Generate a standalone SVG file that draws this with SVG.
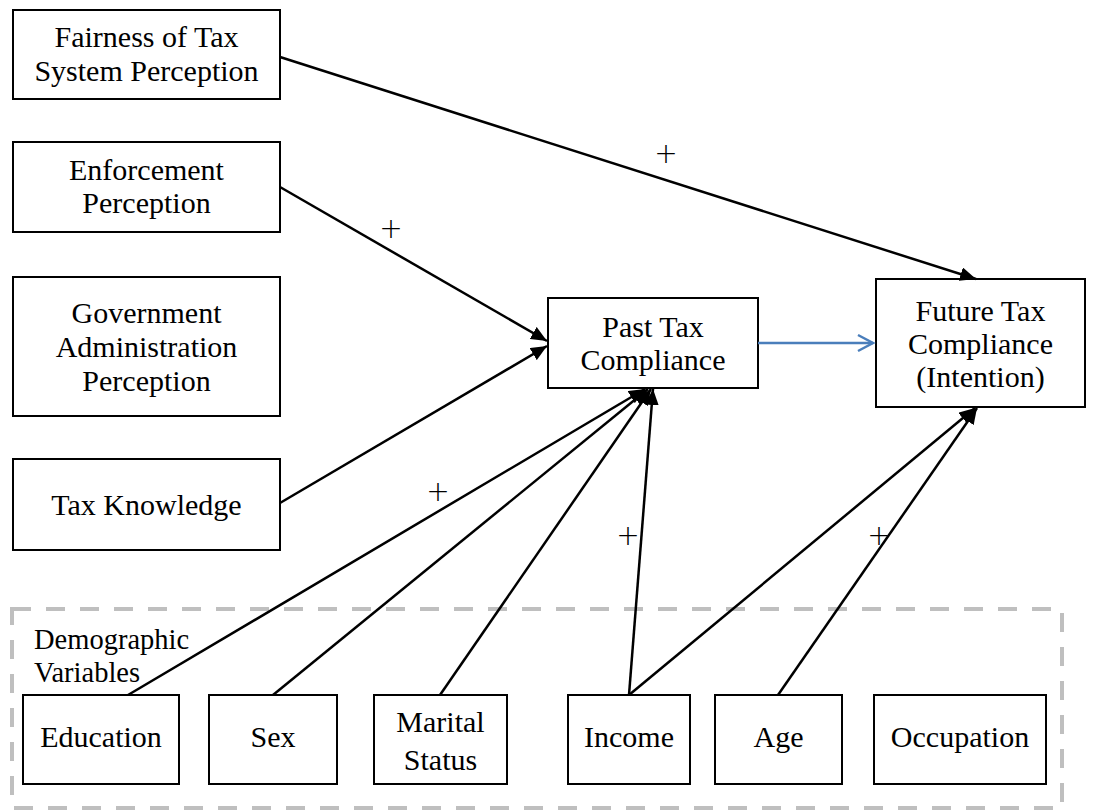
<svg xmlns="http://www.w3.org/2000/svg" width="1105" height="810" viewBox="0 0 1105 810">
<style>
.box{fill:#fff;stroke:#000;stroke-width:2}
.t{font-family:"Liberation Serif","Times New Roman",serif;font-size:30px;fill:#000;text-anchor:middle}
.tl{font-family:"Liberation Serif","Times New Roman",serif;font-size:28.5px;fill:#000}
.plus{font-family:"DejaVu Sans",sans-serif;font-size:28px;font-weight:200;fill:#000;text-anchor:middle}
.c{stroke:#000;stroke-width:2.5;fill:none;marker-end:url(#ah)}
</style>
<defs>
<marker id="ah" markerUnits="userSpaceOnUse" markerWidth="17" markerHeight="14" refX="16" refY="7" orient="auto">
<path d="M0,0 L16,7 L0,14 z" fill="#000"/>
</marker>
<marker id="oh" markerUnits="userSpaceOnUse" markerWidth="20" markerHeight="20" refX="17" refY="10" orient="auto">
<path d="M2,2 L17,10 L2,18" fill="none" stroke="#4a7ebb" stroke-width="2.5"/>
</marker>
</defs>
<rect x="12" y="609" width="1050" height="199" fill="none" stroke="#bfbfbf" stroke-width="4" stroke-dasharray="19 15"/>
<text class="tl" x="34" y="649">Demographic</text>
<text class="tl" x="34" y="682">Variables</text>
<g id="fairness"><rect class="box" x="13" y="10" width="267" height="89"/><text class="t" x="146.5" y="47">Fairness of Tax</text><text class="t" x="146.5" y="81">System Perception</text></g>
<g id="enforcement"><rect class="box" x="13" y="142" width="267" height="90"/><text class="t" x="146.5" y="180">Enforcement</text><text class="t" x="146.5" y="213">Perception</text></g>
<g id="government"><rect class="box" x="13" y="277" width="267" height="139"/><text class="t" x="146.5" y="323">Government</text><text class="t" x="146.5" y="357">Administration</text><text class="t" x="146.5" y="391">Perception</text></g>
<g id="knowledge"><rect class="box" x="13" y="459" width="267" height="91"/><text class="t" x="146.5" y="515">Tax Knowledge</text></g>
<g id="past"><rect class="box" x="548" y="298" width="210" height="90"/><text class="t" x="653" y="337">Past Tax</text><text class="t" x="653" y="370">Compliance</text></g>
<g id="future"><rect class="box" x="876" y="279" width="209" height="128"/><text class="t" x="980.5" y="321">Future Tax</text><text class="t" x="980.5" y="354">Compliance</text><text class="t" x="980.5" y="387">(Intention)</text></g>
<g id="education"><rect class="box" x="23" y="695" width="156" height="89"/><text class="t" x="101" y="747">Education</text></g>
<g id="sex"><rect class="box" x="209" y="695" width="128" height="89"/><text class="t" x="273" y="747">Sex</text></g>
<g id="marital"><rect class="box" x="374" y="695" width="133" height="89"/><text class="t" x="440.5" y="732">Marital</text><text class="t" x="440.5" y="770">Status</text></g>
<g id="income"><rect class="box" x="568" y="695" width="122" height="89"/><text class="t" x="629" y="747">Income</text></g>
<g id="age"><rect class="box" x="715" y="695" width="127" height="89"/><text class="t" x="778.5" y="747">Age</text></g>
<g id="occupation"><rect class="box" x="874" y="695" width="172" height="89"/><text class="t" x="960" y="747">Occupation</text></g>
<g id="connectors">
<line class="c" x1="280" y1="57" x2="976" y2="279"/>
<line class="c" x1="280" y1="187" x2="547" y2="341"/>
<line class="c" x1="280" y1="503" x2="547" y2="346"/>
<line class="c" x1="128" y1="695" x2="645" y2="389"/>
<line class="c" x1="273" y1="695" x2="648" y2="389"/>
<line class="c" x1="440" y1="695" x2="651" y2="389"/>
<line class="c" x1="629" y1="695" x2="653" y2="389"/>
<line class="c" x1="629" y1="695" x2="975" y2="408"/>
<line class="c" x1="778" y1="695" x2="977" y2="408"/>
<line x1="758" y1="343" x2="873" y2="343" stroke="#4a7ebb" stroke-width="2.5" marker-end="url(#oh)"/>
</g>
<g id="labels">
<text class="plus" x="666" y="163">+</text>
<text class="plus" x="391" y="238">+</text>
<text class="plus" x="438" y="501">+</text>
<text class="plus" x="628" y="545">+</text>
<text class="plus" x="879" y="545">+</text>
</g>
</svg>
